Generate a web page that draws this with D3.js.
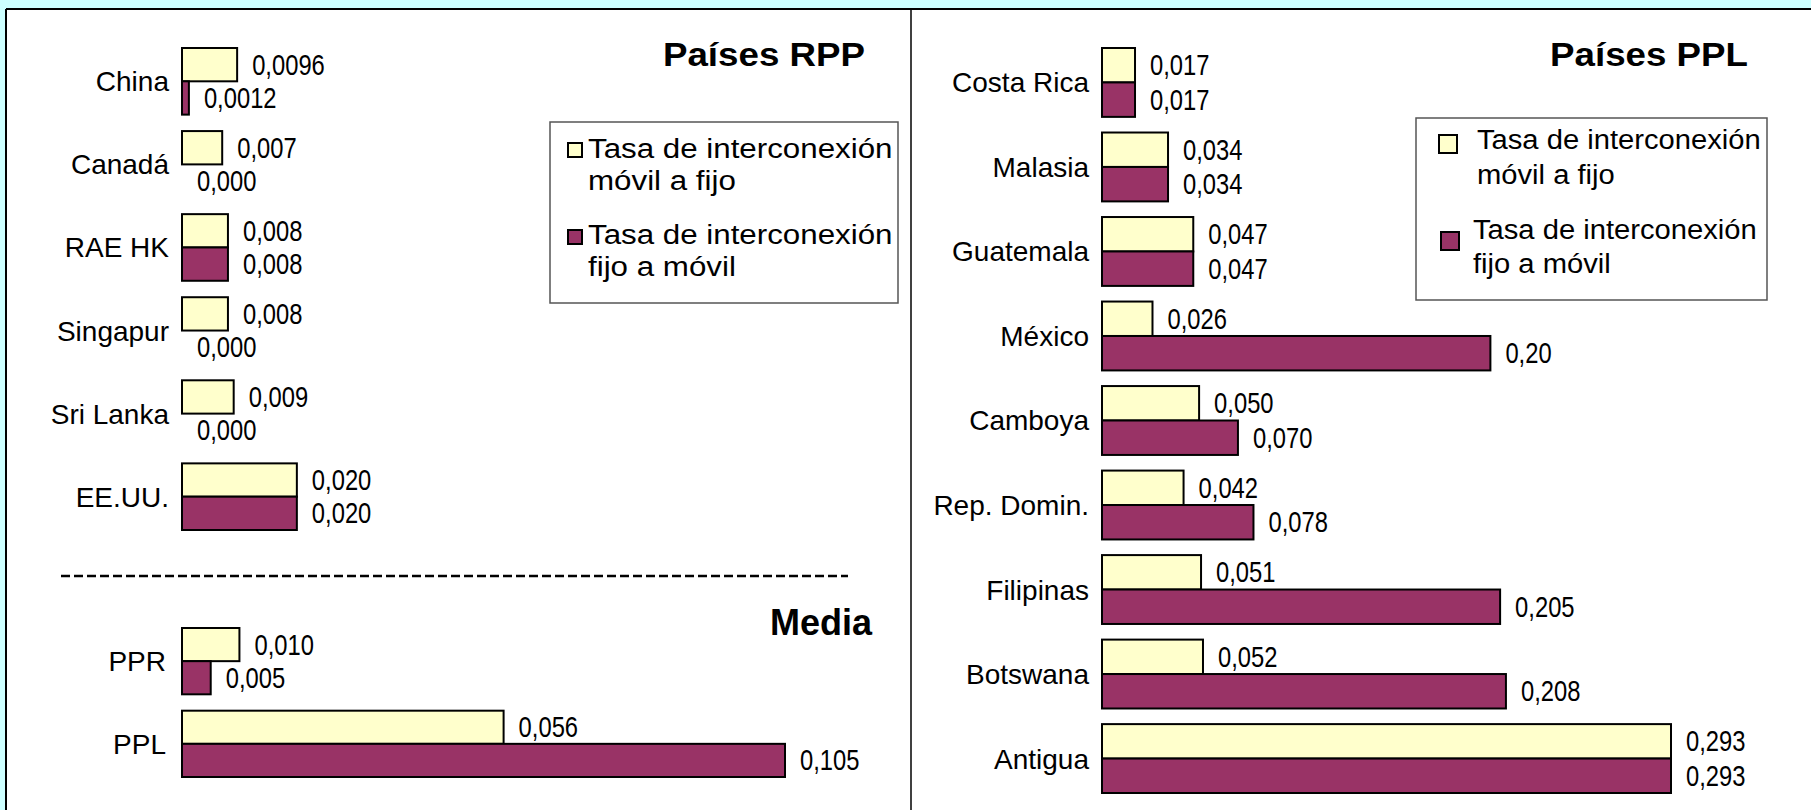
<!DOCTYPE html>
<html>
<head>
<meta charset="utf-8">
<script src="https://cdn.jsdelivr.net/npm/d3@7"></script>
<style>
  html, body { margin: 0; padding: 0; background: #CCFFFF; }
  svg { display: block; }
  text { font-family: "Liberation Sans", Arial, "Noto Sans", sans-serif; fill: #000; }
</style>
</head>
<body>
<svg id="chart" width="1811" height="810"></svg>
<script>
// ---------------- DATA ----------------
const seriesNames = ["Tasa de interconexión móvil a fijo", "Tasa de interconexión fijo a móvil"];
const legendLines = [["Tasa de interconexión", "móvil a fijo"], ["Tasa de interconexión", "fijo a móvil"]];

const rppTitle = "Países RPP";
const rppCategories = ["China", "Canadá", "RAE HK", "Singapur", "Sri Lanka", "EE.UU."];
const rppMovilFijo = [0.0096, 0.007, 0.008, 0.008, 0.009, 0.020];
const rppFijoMovil = [0.0012, 0.000, 0.008, 0.000, 0.000, 0.020];
const rppMovilFijoLabels = ["0,0096", "0,007", "0,008", "0,008", "0,009", "0,020"];
const rppFijoMovilLabels = ["0,0012", "0,000", "0,008", "0,000", "0,000", "0,020"];

const mediaTitle = "Media";
const mediaCategories = ["PPR", "PPL"];
const mediaMovilFijo = [0.010, 0.056];
const mediaFijoMovil = [0.005, 0.105];
const mediaMovilFijoLabels = ["0,010", "0,056"];
const mediaFijoMovilLabels = ["0,005", "0,105"];

const pplTitle = "Países PPL";
const pplCategories = ["Costa Rica", "Malasia", "Guatemala", "México", "Camboya", "Rep. Domin.", "Filipinas", "Botswana", "Antigua"];
const pplMovilFijo = [0.017, 0.034, 0.047, 0.026, 0.050, 0.042, 0.051, 0.052, 0.293];
const pplFijoMovil = [0.017, 0.034, 0.047, 0.20, 0.070, 0.078, 0.205, 0.208, 0.293];
const pplMovilFijoLabels = ["0,017", "0,034", "0,047", "0,026", "0,050", "0,042", "0,051", "0,052", "0,293"];
const pplFijoMovilLabels = ["0,017", "0,034", "0,047", "0,20", "0,070", "0,078", "0,205", "0,208", "0,293"];

const colors = ["#FFFFCC", "#993366"];

// ---------------- DRAW ----------------
const svg = d3.select("#chart");

// white chart area with frame
svg.append("rect").attr("x", 6).attr("y", 9).attr("width", 1830).attr("height", 820).attr("fill", "#fff");
svg.append("line").attr("x1", 6).attr("x2", 1811).attr("y1", 9).attr("y2", 9).attr("stroke", "#000").attr("stroke-width", 2);
svg.append("line").attr("x1", 6).attr("x2", 6).attr("y1", 9).attr("y2", 810).attr("stroke", "#000").attr("stroke-width", 2);
svg.append("line").attr("x1", 911).attr("x2", 911).attr("y1", 9).attr("y2", 810).attr("stroke", "#000").attr("stroke-width", 1.5);

function drawGroupChart(g, opts) {
  const y = d3.scaleBand().domain(opts.categories).range(opts.yRange).paddingInner(opts.padding).paddingOuter(0);
  const sub = d3.scaleBand().domain([0, 1]).range([0, y.bandwidth()]).padding(0);
  const x = opts.x;
  const rows = opts.categories.map((c, i) => ({
    cat: c,
    vals: [opts.s1[i], opts.s2[i]],
    labels: [opts.l1[i], opts.l2[i]]
  }));
  const grp = g.selectAll("g.cat").data(rows).join("g").attr("class", "cat")
    .attr("transform", d => `translate(0,${y(d.cat)})`);

  grp.selectAll("rect").data(d => d.vals.map((v, k) => ({ v, k })).filter(e => e.v > 0))
    .join("rect")
    .attr("x", x(0))
    .attr("y", e => sub(e.k))
    .attr("width", e => x(e.v) - x(0))
    .attr("height", sub.bandwidth())
    .attr("fill", e => colors[e.k])
    .attr("stroke", "#000")
    .attr("stroke-width", 2);

  grp.selectAll("text.val").data(d => d.vals.map((v, k) => ({ v, k, lab: d.labels[k] })))
    .join("text").attr("class", "val")
    .attr("transform", e => `translate(${x(e.v) + 15},${sub(e.k) + sub.bandwidth() / 2 + 10}) scale(0.82,1)`)
    .attr("font-size", 29)
    .text(e => e.lab);

  grp.append("text").attr("class", "cat")
    .attr("x", opts.labelX)
    .attr("y", y.bandwidth() / 2 + 10)
    .attr("text-anchor", "end")
    .attr("font-size", 28)
    .text(d => d.cat);
}

function drawLegend(g, box, marker, textX, baselines, size, sx) {
  g.append("rect").attr("x", box[0]).attr("y", box[1]).attr("width", box[2]).attr("height", box[3])
    .attr("fill", "#fff").attr("stroke", "#555").attr("stroke-width", 1.5);
  seriesNames.forEach((name, k) => {
    g.append("rect").attr("x", marker[k][0]).attr("y", marker[k][1])
      .attr("width", marker[k][2]).attr("height", marker[k][2])
      .attr("fill", colors[k]).attr("stroke", "#000").attr("stroke-width", 2);
    legendLines[k].forEach((line, j) => {
      g.append("text")
        .attr("transform", `translate(${textX[k]},${baselines[k][j]}) scale(${sx},1)`)
        .attr("font-size", size)
        .text(line);
    });
  });
}

function title(g, txt, x, y, size, sx) {
  g.append("text").attr("transform", `translate(${x},${y}) scale(${sx},1)`)
    .attr("text-anchor", "end").attr("font-weight", "bold").attr("font-size", size).text(txt);
}

// ---- Left panel: Países RPP ----
const xLeft = d3.scaleLinear().domain([0, 0.105]).range([182, 785]);
const gRpp = svg.append("g");
drawGroupChart(gRpp, {
  categories: rppCategories, s1: rppMovilFijo, s2: rppFijoMovil,
  l1: rppMovilFijoLabels, l2: rppFijoMovilLabels,
  x: xLeft, yRange: [48, 530], padding: 0.198, labelX: 169
});
title(svg, rppTitle, 865, 66, 34, 1.08);
drawLegend(svg.append("g"), [550, 122, 348, 181],
  [[568, 143, 14], [568, 230, 14]], [588, 588], [[158, 190], [244, 276]], 27, 1.16);

// dashed separator
svg.append("line").attr("x1", 61).attr("x2", 848).attr("y1", 576).attr("y2", 576)
  .attr("stroke", "#000").attr("stroke-width", 2.5).attr("stroke-dasharray", "9,4");

// ---- Left panel: Media ----
const gMedia = svg.append("g");
drawGroupChart(gMedia, {
  categories: mediaCategories, s1: mediaMovilFijo, s2: mediaFijoMovil,
  l1: mediaMovilFijoLabels, l2: mediaFijoMovilLabels,
  x: xLeft, yRange: [628, 777], padding: 0.198, labelX: 166
});
title(svg, mediaTitle, 872, 635, 36, 1);

// ---- Right panel: Países PPL ----
const xRight = d3.scaleLinear().domain([0, 0.293]).range([1102, 1671]);
const gPpl = svg.append("g");
drawGroupChart(gPpl, {
  categories: pplCategories, s1: pplMovilFijo, s2: pplFijoMovil,
  l1: pplMovilFijoLabels, l2: pplFijoMovilLabels,
  x: xRight, yRange: [48, 793], padding: 0.185, labelX: 1089
});
title(svg, pplTitle, 1748, 66, 34, 1.08);
drawLegend(svg.append("g"), [1416, 118, 351, 182],
  [[1439, 135, 18], [1441, 232, 18]], [1477, 1473], [[149, 184], [239, 273]], 27, 1.08);
</script>
</body>
</html>
